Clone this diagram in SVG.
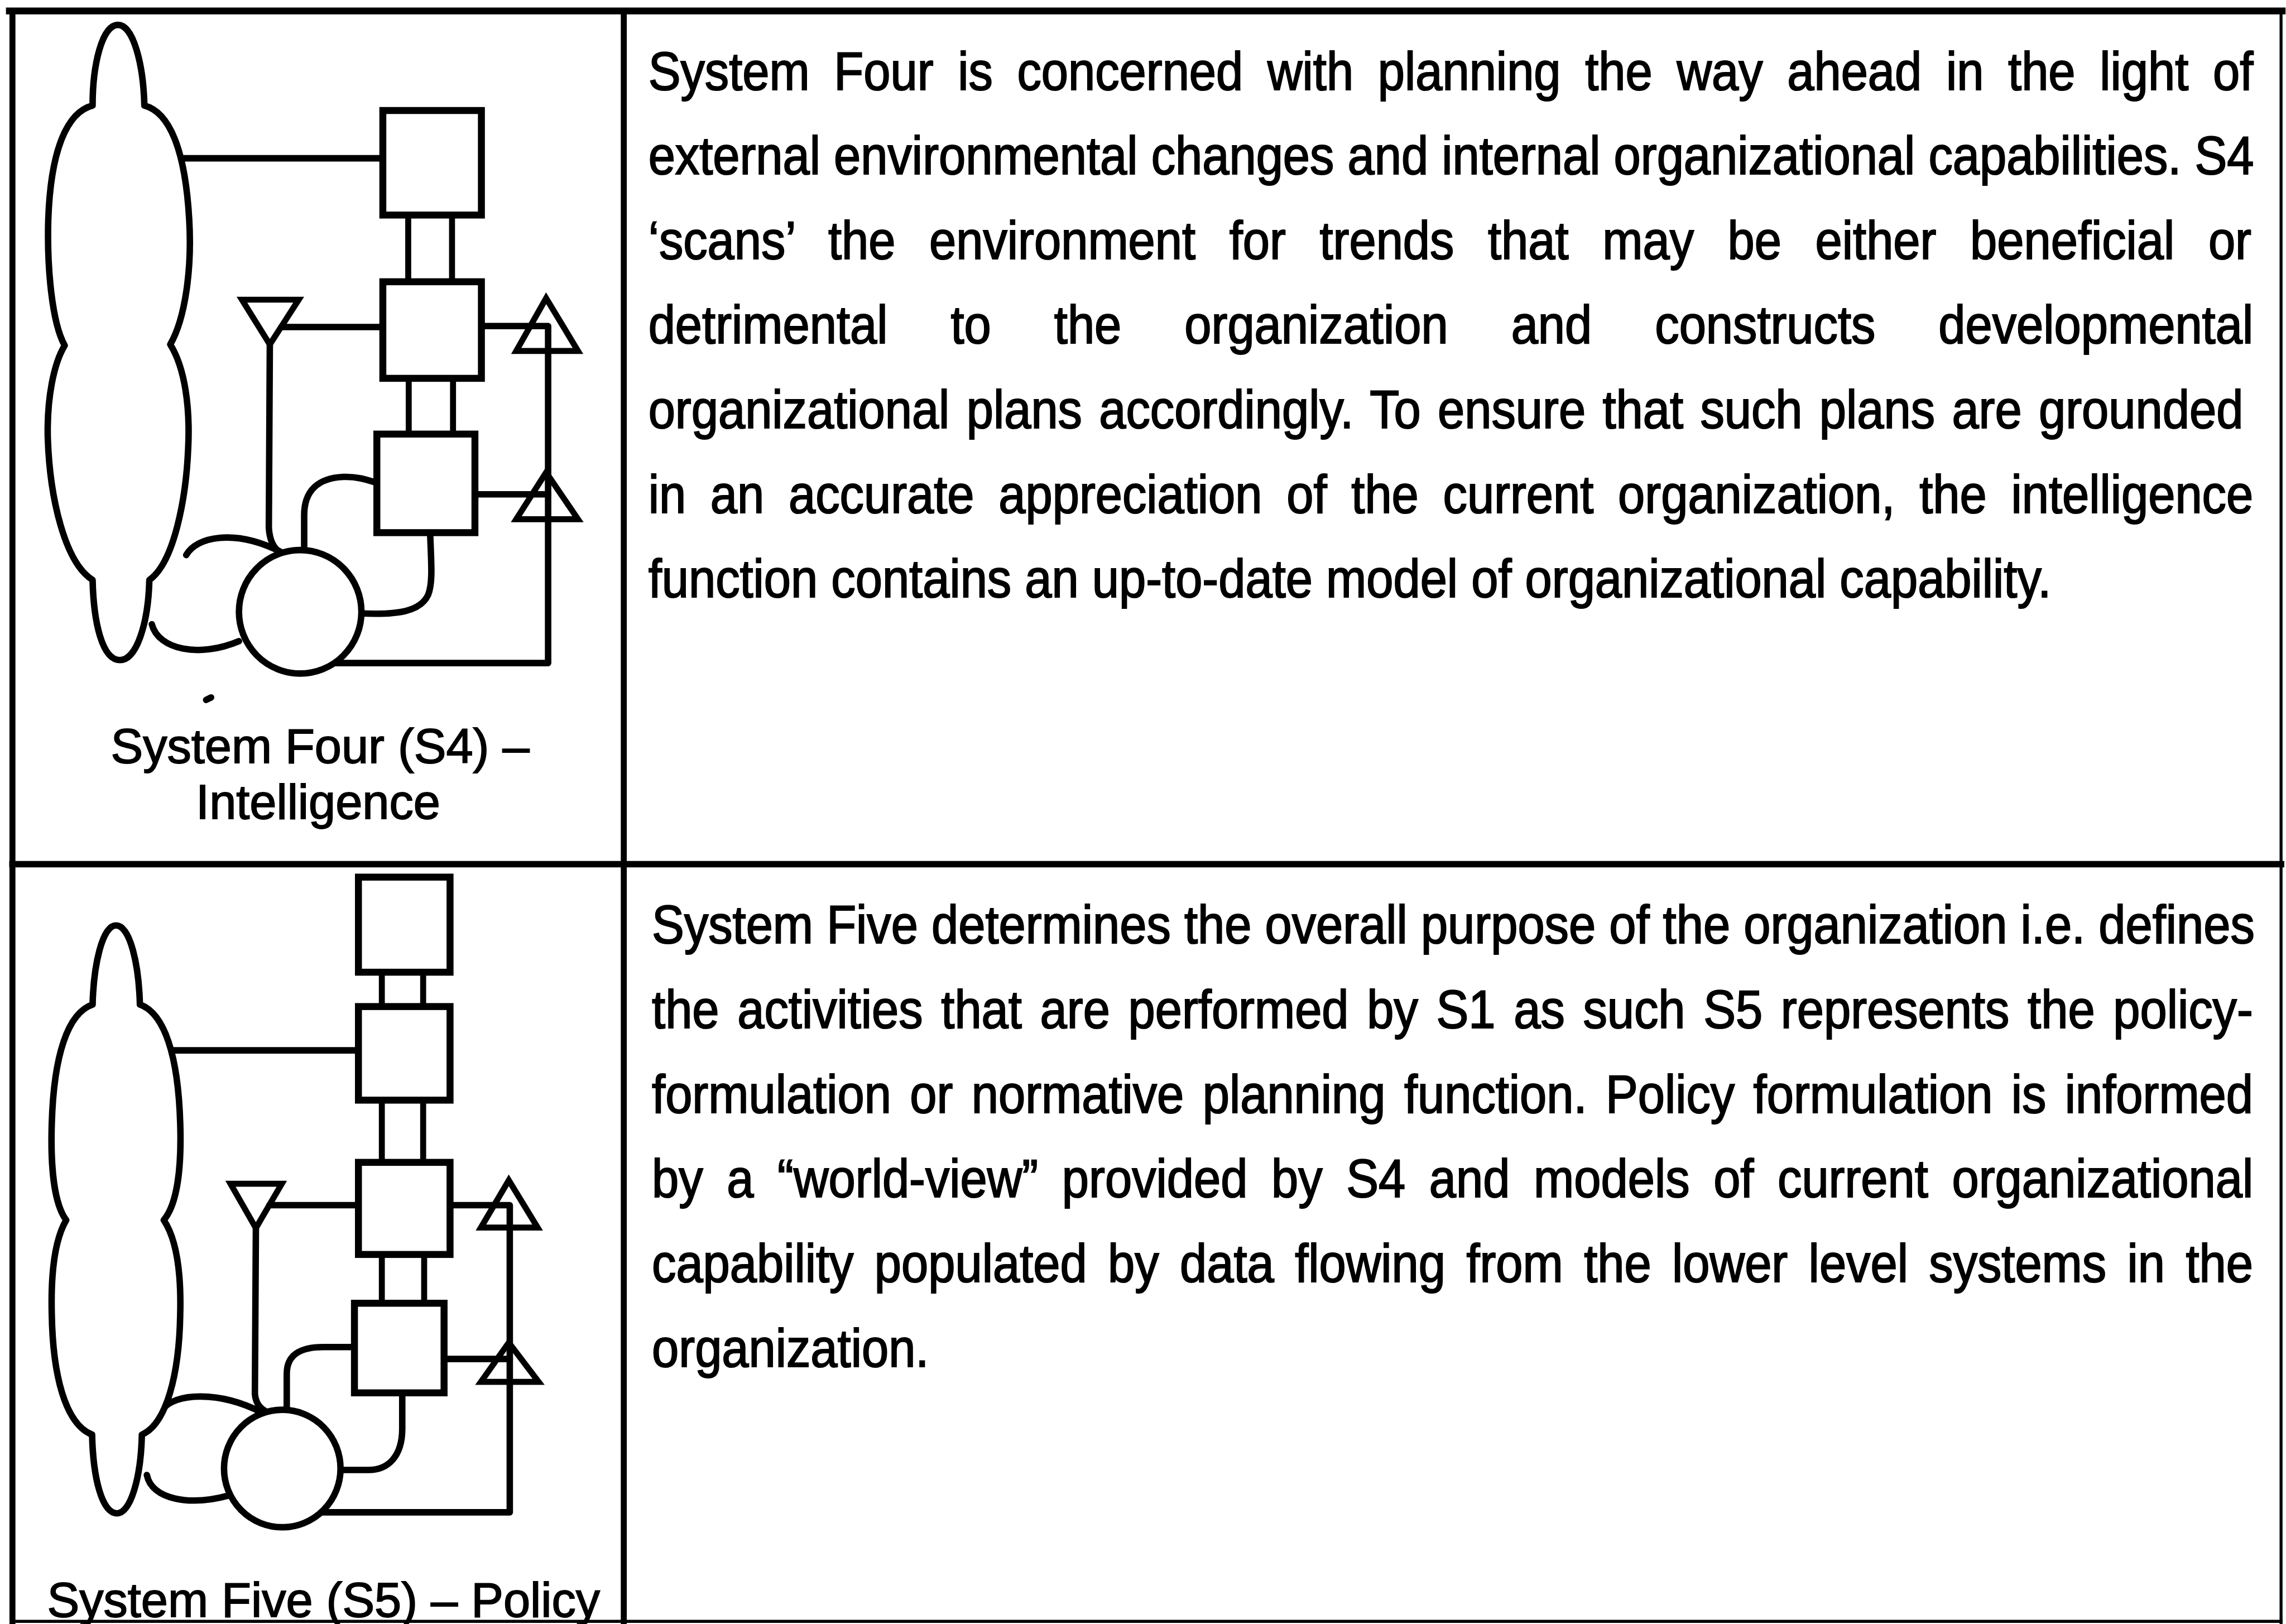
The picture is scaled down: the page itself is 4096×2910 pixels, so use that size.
<svg xmlns="http://www.w3.org/2000/svg" width="4096" height="2910" viewBox="0 0 4096 2910">
  <defs>
    <style>
      .frame { fill: none; stroke: #000; stroke-linecap: square; }
      .ln { fill: none; stroke: #000; stroke-width: 13; stroke-linejoin: round; stroke-linecap: round; }
      .bar { fill: none; stroke: #000; stroke-width: 12; }
      .box { fill: #fff; stroke: #000; stroke-width: 14; stroke-linejoin: miter; }
      .tri { fill: none; stroke: #000; stroke-width: 12; stroke-linejoin: miter; }
      .cloud { fill: #fff; stroke: #000; stroke-width: 13; stroke-linejoin: round; }
      .orb { fill: #fff; stroke: #000; stroke-width: 13; }
      .lbl { font-family: "Liberation Sans", Arial, Helvetica, sans-serif; font-size: 97px; text-anchor: middle; fill: #000; stroke: #000; stroke-width: 2; }
      .para { font-family: "Liberation Sans", Arial, Helvetica, sans-serif; font-size: 108px; fill: #000; stroke: #000; stroke-width: 2.4; }
    </style>
  </defs>
  <rect x="0" y="0" width="4096" height="2910" fill="#fff"/>
  <!-- all geometry in page units of the source sheet, scaled to the window -->
  <g transform="scale(0.892)">
    <!-- table frame -->
    <g id="table">
      <line class="frame" x1="19" y1="22" x2="4584" y2="22" stroke-width="14"/>
      <line class="frame" x1="25" y1="22" x2="25" y2="3262" stroke-width="12"/>
      <line class="frame" x1="4582" y1="22" x2="4582" y2="3262" stroke-width="6"/>
      <line class="frame" x1="25" y1="3257" x2="4582" y2="3257" stroke-width="6"/>
      <line class="frame" x1="1253" y1="22" x2="1253" y2="3262" stroke-width="12"/>
      <line class="frame" x1="25" y1="1736" x2="4582" y2="1736" stroke-width="13"/>
    </g>

    <!-- ===== System Four (S4) diagram ===== -->
    <g id="s4-connectors">
      <path class="ln" d="M352,318 H769"/>
      <path class="bar" d="M820,432 V566 M908,432 V566 M821,760 V872 M910,760 V872"/>
      <path class="ln" d="M565,657 H769"/>
      <path class="ln" d="M542,692 L540,1060 Q542,1092 558,1106"/>
      <path class="ln" d="M967,655 H1101 V1332 H668"/>
      <path class="ln" d="M954,993 H1101"/>
      <path class="ln" d="M374,1115 C395,1078 470,1062 563,1108"/>
      <path class="ln" d="M305,1254 C318,1305 400,1322 480,1288"/>
      <path class="ln" d="M611,1106 L611,1035 C611,985 640,960 690,958 C720,957 740,965 757,970"/>
      <path class="ln" d="M864,1070 C866,1130 870,1170 860,1195 C845,1228 800,1236 722,1232"/>
      <path class="ln" d="M414,1406 L424,1401" stroke-width="5"/>
    </g>
    <g id="s4-environment">
      <path class="cloud" d="M237,50 C268,50 288,130 290,212 C340,225 372,300 380,440 C386,540 372,640 342,692 C372,740 382,820 378,900 C374,1000 350,1130 300,1165 C298,1250 275,1326 241,1326 C205,1326 188,1250 186,1165 C130,1130 100,1000 96,880 C94,800 108,730 130,694 C105,650 94,540 97,440 C102,300 135,225 186,212 C186,130 205,50 237,50 Z"/>
    </g>
    <g id="s4-box-top"><rect class="box" x="769" y="222" width="198" height="210"/></g>
    <g id="s4-box-mid"><rect class="box" x="769" y="566" width="198" height="194"/></g>
    <g id="s4-box-low"><rect class="box" x="757" y="872" width="197" height="198"/></g>
    <g id="s4-antenna"><polygon class="tri" points="486,602 600,602 542,692"/></g>
    <g id="s4-signal-upper"><polygon class="tri" points="1037,705 1161,705 1097,599"/></g>
    <g id="s4-signal-lower"><polygon class="tri" points="1037,1043 1161,1043 1097,949"/></g>
    <g id="s4-operations"><ellipse class="orb" cx="603" cy="1229" rx="123" ry="124"/></g>
    <g id="s4-label">
      <text class="lbl" x="643" y="1532">System Four (S4) –</text>
      <text class="lbl" x="639" y="1645">Intelligence</text>
    </g>

    <!-- ===== System Five (S5) diagram ===== -->
    <g id="s5-connectors">
      <path class="ln" d="M342,2110 H720"/>
      <path class="bar" d="M767,1953 V2022 M850,1953 V2022 M767,2210 V2335 M850,2210 V2335 M767,2520 V2618 M852,2520 V2618"/>
      <path class="ln" d="M541,2421 H720"/>
      <path class="ln" d="M514,2467 L512,2800 Q514,2824 532,2834"/>
      <path class="ln" d="M904,2421 H1024 V3038 H643"/>
      <path class="ln" d="M892,2730 H1024"/>
      <path class="ln" d="M326,2832 C350,2798 440,2793 527,2838"/>
      <path class="ln" d="M295,2963 C305,3012 380,3026 460,3004"/>
      <path class="ln" d="M576,2834 L576,2760 C576,2720 605,2706 650,2706 L712,2706"/>
      <path class="ln" d="M808,2798 L808,2870 C808,2925 780,2953 740,2953 L682,2953"/>
    </g>
    <g id="s5-environment">
      <path class="cloud" d="M233,1859 C262,1859 279,1940 281,2018 C330,2035 358,2120 362,2257 C365,2350 355,2420 329,2451 C355,2490 364,2560 362,2640 C360,2760 335,2860 285,2882 C283,2970 262,3040 235,3040 C205,3040 187,2970 185,2882 C130,2860 106,2760 104,2640 C102,2560 110,2490 133,2451 C110,2420 101,2350 104,2257 C108,2120 136,2035 186,2018 C188,1940 205,1859 233,1859 Z"/>
    </g>
    <g id="s5-box-1"><rect class="box" x="720" y="1762" width="184" height="191"/></g>
    <g id="s5-box-2"><rect class="box" x="720" y="2022" width="184" height="188"/></g>
    <g id="s5-box-3"><rect class="box" x="720" y="2335" width="184" height="185"/></g>
    <g id="s5-box-4"><rect class="box" x="712" y="2618" width="180" height="180"/></g>
    <g id="s5-antenna"><polygon class="tri" points="463,2378 566,2378 514,2467"/></g>
    <g id="s5-signal-upper"><polygon class="tri" points="966,2466 1080,2466 1022,2371"/></g>
    <g id="s5-signal-lower"><polygon class="tri" points="966,2776 1082,2776 1022,2697"/></g>
    <g id="s5-operations"><ellipse class="orb" cx="567" cy="2950" rx="117" ry="118"/></g>
    <g id="s5-label">
      <text class="lbl" x="650" y="3248">System Five (S5) – Policy</text>
    </g>

    <!-- ===== description texts (condensed face, justified by word spacing) ===== -->
    <g id="s4-description" transform="scale(0.9,1)">
      <text class="para" x="1447" y="180" word-spacing="24.4">System Four is concerned with planning the way ahead in the light of</text>
      <text class="para" x="1447" y="350" word-spacing="0">external environmental changes and internal organizational capabilities. S4</text>
      <text class="para" x="1447" y="520" word-spacing="45.5">‘scans’ the environment for trends that may be either beneficial or</text>
      <text class="para" x="1447" y="690" word-spacing="110.8">detrimental to the organization and constructs developmental</text>
      <text class="para" x="1447" y="860" word-spacing="7.8">organizational plans accordingly. To ensure that such plans are grounded</text>
      <text class="para" x="1447" y="1030" word-spacing="24.5">in an accurate appreciation of the current organization, the intelligence</text>
      <text class="para" x="1447" y="1200">function contains an up-to-date model of organizational capability.</text>
    </g>
    <g id="s5-description" transform="scale(0.9,1)">
      <text class="para" x="1455" y="1895" word-spacing="0">System Five determines the overall purpose of the organization i.e. defines</text>
      <text class="para" x="1455" y="2065" word-spacing="10.7">the activities that are performed by S1 as such S5 represents the policy-</text>
      <text class="para" x="1455" y="2235" word-spacing="11.6">formulation or normative planning function. Policy formulation is informed</text>
      <text class="para" x="1455" y="2405" word-spacing="23.1">by a “world-view” provided by S4 and models of current organizational</text>
      <text class="para" x="1455" y="2575" word-spacing="16.6">capability populated by data flowing from the lower level systems in the</text>
      <text class="para" x="1455" y="2745">organization.</text>
    </g>
  </g>
</svg>
